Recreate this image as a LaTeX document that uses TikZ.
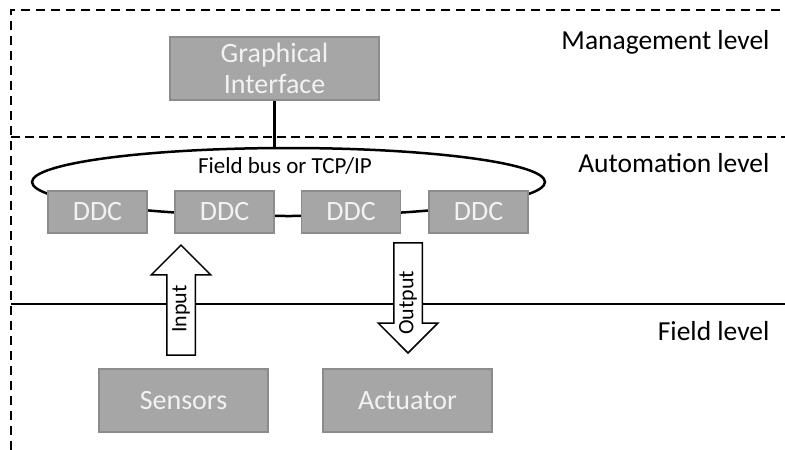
\documentclass[tikz,border=0pt]{standalone}
\usepackage{fontspec}
\setmainfont{Carlito}
\usetikzlibrary{shapes.geometric,shapes.arrows}

\definecolor{boxfill}{RGB}{166,166,166}
\definecolor{boxline}{RGB}{140,140,140}
\definecolor{boxtext}{RGB}{242,242,242}

\begin{document}
\begin{tikzpicture}[x=1pt,y=-1pt,
    box/.style={draw=boxline,line width=1.5pt,fill=boxfill,text=boxtext,inner sep=0pt,
        font=\fontsize{28}{31}\selectfont,align=center},
    level/.style={anchor=east,font=\fontsize{27.5}{30}\selectfont},
    blockarrow/.style={single arrow,draw,line width=1.5pt,fill=white,rotate=90,
        text height=14pt,text depth=5pt,inner ysep=4pt,
        minimum height=110pt,single arrow head extend=15.5pt},
    arrowtext/.style={rotate=90,inner sep=0pt,font=\fontsize{22}{24}\selectfont}]
    \useasboundingbox (0,0) rectangle (785,450);
    % levels
    \draw[line width=2.5pt,dash pattern=on 9pt off 6pt] (11,450) -- (11,10) -- (785,10);
    \draw[line width=2.5pt,dash pattern=on 9pt off 5pt] (11,137) -- (785,137);
    \draw[line width=2pt] (11,304) -- (785,304);
    \node[level] (mgmt) at (773,42) {Management level};
    \node[level] (auto) at (773,163) {Automation level};
    \node[level] (field) at (773,331) {Field level};
    % bus and controllers
    \node[box,minimum width=209,minimum height=63] (gui) at (274.5,68.5) {Graphical\\Interface};
    \node[ellipse,draw,line width=2.5pt,inner sep=0pt,minimum width=513,minimum height=68] (bus) at (288.5,182) {};
    \draw[line width=2.5pt] (gui.south) -- (gui.south |- bus.north);
    \node[font=\fontsize{23}{25}\selectfont] (proto) at (285,166) {Field bus or TCP/IP};
    \foreach \i/\x in {1/97.5,2/224.5,3/351,4/478.5}
        \node[box,minimum width=99,minimum height=42] (ddc\i) at (\x,212) {DDC};
    % field devices
    \node[box,minimum width=169,minimum height=63] (sens) at (183.5,400.5) {Sensors};
    \node[box,minimum width=169,minimum height=63] (act) at (407.5,400.5) {Actuator};
    \node[blockarrow,anchor=tip] (in) at (181,244) {};
    \node[blockarrow,shape border rotate=180,anchor=tip] (out) at (408,354) {};
    \node[arrowtext] (intext) at (181,309) {Input};
    \node[arrowtext] (outtext) at (408,303) {Output};
\end{tikzpicture}
\end{document}
